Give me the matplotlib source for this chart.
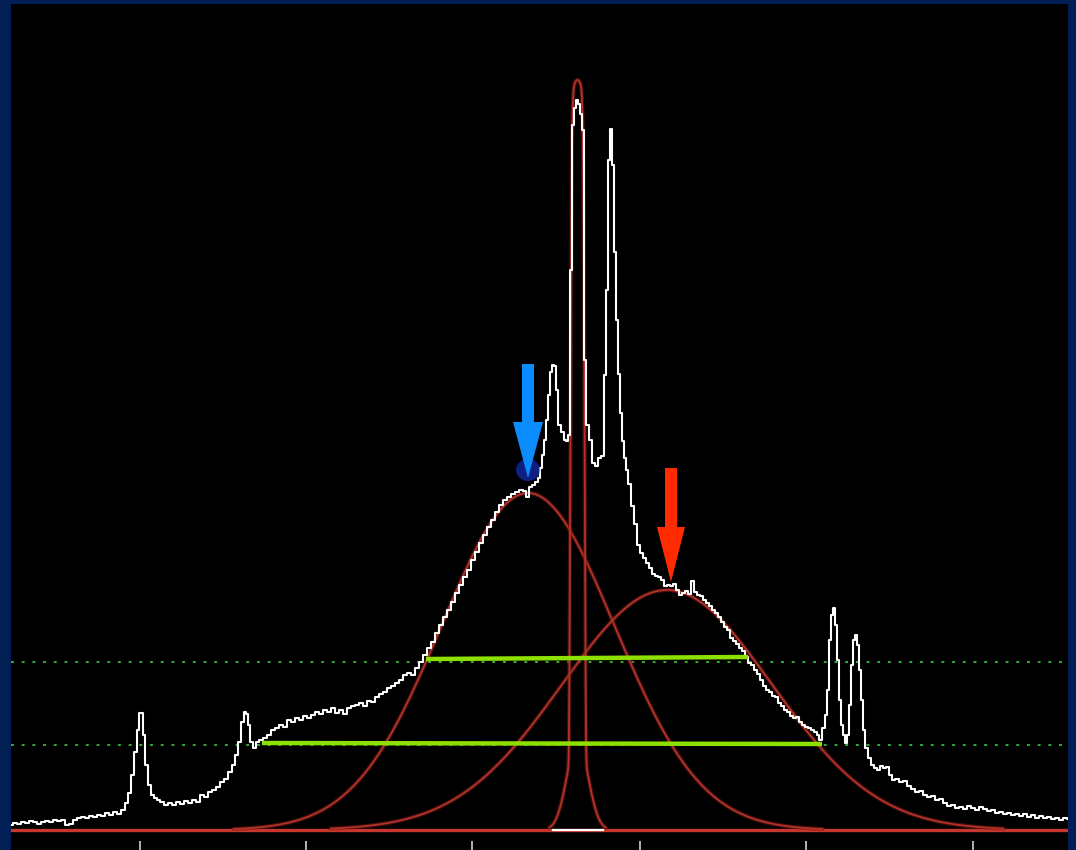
import numpy as np
import matplotlib
matplotlib.use("Agg")
import matplotlib.pyplot as plt
from matplotlib.patches import FancyArrow, Ellipse

# ---------------- data ----------------
# spectrum: channel vs counts (white step trace)
channel = [11, 15, 19, 23, 27, 31, 35, 39, 43, 47, 51, 55, 59, 63, 67, 71, 75, 79, 83, 87, 91, 95, 99, 103, 107,
           111, 115, 119, 123, 126, 129, 132, 135, 138, 140, 142, 144, 146, 149, 152, 155, 158, 162, 166, 170,
           174, 178, 182, 186, 190, 194, 198, 202, 206, 210, 214, 218, 222, 226, 230, 233, 236, 239, 242, 245,
           247, 249, 251, 254, 257, 261, 265, 269, 273, 277, 281, 285, 289, 293, 297, 301, 305, 309, 313, 317,
           321, 325, 329, 333, 337, 341, 345, 349, 353, 357, 361, 365, 369, 373, 377, 381, 385, 389, 393, 397,
           401, 405, 409, 413, 417, 421, 425, 429, 433, 437, 441, 445, 449, 453, 457, 461, 465, 469, 473, 477,
           481, 485, 489, 493, 497, 501, 505, 509, 513, 517, 521, 525, 527, 530, 533, 536, 539, 541, 543, 545,
           547, 549, 551, 553, 555, 557, 559, 562, 565, 567, 569, 571, 573, 575, 577, 579, 581, 583, 585, 587,
           590, 593, 596, 599, 603, 605, 607, 609, 611, 613, 615, 617, 619, 621, 623, 625, 627, 629, 632, 635,
           638, 641, 644, 647, 650, 653, 656, 659, 662, 665, 668, 671, 674, 677, 680, 683, 686, 689, 692, 695,
           698, 701, 704, 707, 710, 713, 716, 719, 722, 725, 728, 731, 734, 737, 740, 743, 746, 749, 752, 755,
           758, 761, 764, 767, 770, 773, 776, 779, 782, 785, 788, 791, 794, 797, 800, 803, 806, 809, 812, 815,
           818, 820, 823, 826, 828, 830, 832, 834, 836, 838, 840, 842, 844, 846, 848, 850, 852, 854, 856, 858,
           860, 862, 864, 866, 869, 872, 875, 878, 881, 884, 887, 890, 893, 897, 901, 905, 909, 913, 917, 921,
           925, 929, 933, 937, 941, 945, 949, 953, 957, 961, 965, 969, 973, 977, 981, 985, 989, 993, 997, 1001,
           1005, 1009, 1013, 1017, 1021, 1025, 1029, 1033, 1037, 1041, 1045, 1049, 1053, 1057, 1061, 1065, 1068]
counts = [5, 7, 6, 8, 7, 9, 8, 6, 8, 9, 8, 10, 9, 10, 5, 6, 10, 12, 13, 12, 14, 13, 15, 14, 17,
          15, 18, 16, 20, 27, 37, 55, 78, 100, 117, 117, 95, 65, 45, 35, 32, 30, 28, 25, 27,
          25, 28, 26, 29, 27, 30, 28, 35, 33, 38, 40, 43, 48, 51, 58, 65, 75, 88, 108, 118,
          116, 105, 88, 82, 88, 90, 92, 95, 100, 102, 105, 103, 110, 108, 112, 110, 114, 112, 115, 118,
          116, 120, 118, 122, 117, 120, 116, 122, 124, 125, 127, 124, 129, 128, 133, 136, 138, 142, 144, 147,
          150, 155, 157, 155, 162, 168, 175, 182, 188, 197, 205, 213, 220, 228, 237, 245, 253, 260, 270, 278,
          287, 295, 303, 310, 318, 325, 330, 333, 336, 338, 340, 339, 333, 343, 345, 348, 352, 362, 375, 390,
          410, 435, 458, 465, 464, 440, 405, 398, 390, 389, 395, 560, 705, 722, 730, 726, 716, 700, 470, 405,
          390, 367, 364, 372, 374, 455, 540, 670, 701, 665, 578, 510, 456, 417, 389, 372, 360, 346, 324, 306,
          285, 277, 272, 267, 262, 256, 254, 253, 250, 244, 245, 244, 246, 240, 235, 237, 239, 236, 249, 238,
          235, 234, 230, 227, 224, 220, 217, 213, 208, 203, 200, 192, 189, 186, 182, 179, 173, 167, 165, 160,
          156, 150, 144, 140, 138, 134, 133, 127, 124, 120, 118, 114, 112, 113, 108, 105, 103, 102, 100, 98,
          95, 90, 102, 115, 140, 190, 215, 222, 205, 170, 130, 105, 95, 87, 95, 125, 165, 190, 195, 185,
          160, 130, 100, 82, 72, 65, 62, 60, 64, 62, 63, 55, 50, 51, 48, 49, 44, 41, 38, 39,
          35, 33, 34, 30, 31, 27, 24, 25, 22, 23, 21, 24, 22, 20, 23, 21, 19, 20, 17, 18,
          16, 17, 15, 16, 14, 16, 13, 15, 12, 14, 12, 13, 11, 12, 10, 12, 11]

# broad Gaussian fit components: amplitude, centre, sigma, drawn extent (in sigmas)
comp_amp = [337, 240]
comp_center = [528, 667]
comp_sigma = [86.5, 105]
comp_extent = [3.4, 3.2]

# narrow component: flat-topped core + wing
narrow_center = 577.5
narrow_core_amp = 660
narrow_core_width = 6.8
narrow_core_power = 8
narrow_wing_amp = 90
narrow_wing_sigma = 10.5
narrow_half_range = 28

# width markers (solid lime) : start, end, y_start, y_end
width_x0 = [426, 262]
width_x1 = [748, 822]
width_y0 = [171, 87]
width_y1 = [173, 86]
# dotted reference levels
level_y = [168, 85]

tick_pos = [140, 306, 472, 640, 806, 973]

# ---------------- figure ----------------
W, H = 1076, 850
fig = plt.figure(figsize=(W / 100, H / 100), dpi=100)
fig.patch.set_facecolor("#021f55")
ax = fig.add_axes([11 / W, 0, 1057 / W, 846 / H])
ax.set_facecolor("black")
ax.set_xlim(11, 1068)
ax.set_ylim(-20, 826)
for s in ax.spines.values():
    s.set_visible(False)

# dotted levels
for ly in level_y:
    ax.axhline(ly, color="#36a83a", lw=1.4, ls=(0, (1.5, 4)), zorder=1)

# baseline
ax.axhline(0, color="#c8372d", lw=2.4, zorder=2)

def draw_curve(xx, yy):
    ax.plot(xx, yy, color="#7a1a14", lw=3.0, alpha=0.55, zorder=3)
    ax.plot(xx, yy, color="#b3322a", lw=1.3, zorder=3)

# broad Gaussian components
for a, c, s, e in zip(comp_amp, comp_center, comp_sigma, comp_extent):
    xx = np.linspace(c - e * s, c + e * s, 600)
    draw_curve(xx, a * np.exp(-0.5 * ((xx - c) / s) ** 2))

# narrow component
xn = np.linspace(narrow_center - narrow_half_range, narrow_center + narrow_half_range, 800)
dn = xn - narrow_center
yn = (narrow_core_amp * np.exp(-0.5 * np.abs(dn / narrow_core_width) ** narrow_core_power)
      + narrow_wing_amp * np.exp(-0.5 * (dn / narrow_wing_sigma) ** 2))
draw_curve(xn, yn)

# white segment under the narrow line
ax.plot([xn[0] + 3, xn[-1] - 3], [0, 0], color="white", lw=1.6, zorder=4)

# spectrum
ax.plot(channel, counts, drawstyle="steps-mid", color="white", lw=1.5, zorder=4)

# width markers
for x0, x1, y0, y1 in zip(width_x0, width_x1, width_y0, width_y1):
    ax.plot([x0, x1], [y0, y1], color="#8ee000", lw=3.2, solid_capstyle="butt", zorder=5)

# arrows marking component peaks
bx = comp_center[0]
ax.add_patch(Ellipse((bx, 360), 24, 22, color="#1a34d8", alpha=0.6, zorder=5, lw=0))
ax.add_patch(FancyArrow(bx, 466, 0, -114, width=12, head_width=30, head_length=56,
                        length_includes_head=True, color="#0a8cff", lw=0, zorder=6))
rx = 671
ax.add_patch(FancyArrow(rx, 362, 0, -114, width=12, head_width=28, head_length=55,
                        length_includes_head=True, color="#ff2a00", lw=0, zorder=6))

# ticks
ax.set_xticks(tick_pos)
ax.set_xticklabels([])
ax.set_yticks([])
ax.tick_params(axis="x", direction="in", length=6.5, width=1.2, color="#cfcfcf", bottom=True)

fig.savefig("out.png", dpi=100, facecolor=fig.get_facecolor())
